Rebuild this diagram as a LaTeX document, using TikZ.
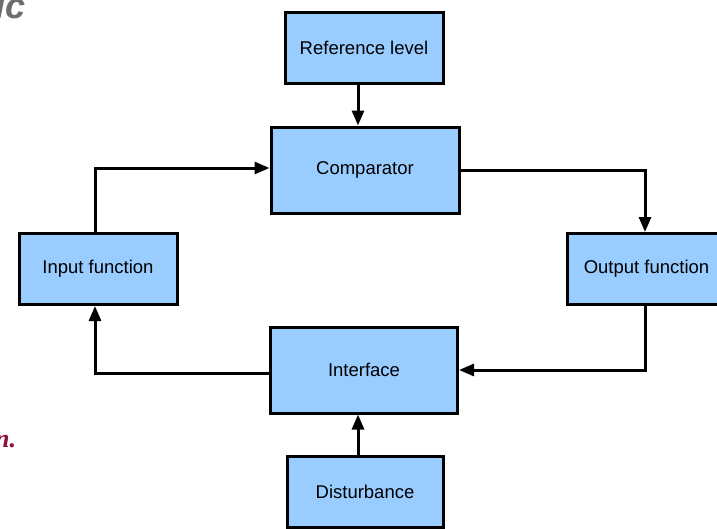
\documentclass[tikz,border=0pt]{standalone}
\usepackage{fontspec}
\setmainfont{Liberation Sans}
\newfontfamily\serifit{Liberation Serif}
\usetikzlibrary{arrows.meta}
\definecolor{boxblue}{HTML}{99CCFF}
\definecolor{wine}{HTML}{8C1040}
\definecolor{capgray}{HTML}{6E6E6E}
\begin{document}
\begin{tikzpicture}[x=1pt,y=-1pt,
  block/.style={draw=black,line width=3pt,fill=boxblue,inner sep=0pt,
    font=\fontsize{18.5}{20}\selectfont},
  link/.style={line width=3pt,-{Triangle[length=15pt,width=12pt]}}]
\useasboundingbox (0,0) rectangle (717,528);
\begin{scope}
\clip (0,0) rectangle (717,528);
% control-loop blocks
\node[block,minimum width=158pt,minimum height=71pt] (ref) at (364,48) {Reference level};
\node[block,minimum width=188pt,minimum height=86pt] (comp) at (365,170) {Comparator};
\node[block,minimum width=158pt,minimum height=71pt] (inp) at (98,269) {Input function};
\node[block,minimum width=158pt,minimum height=71pt,anchor=west] (out) at (566,269) {Output function};
\node[block,minimum width=187pt,minimum height=86pt] (intf) at (364,370) {Interface};
\node[block,minimum width=156pt,minimum height=71pt] (dist) at (365,492) {Disturbance};
% partial captions at the margins
\node[anchor=base west,text=capgray,font=\fontsize{36}{36}\selectfont\bfseries\itshape,inner sep=0pt] (cap1) at (-5,18) {ic};
\node[anchor=base west,text=wine,font=\serifit\fontsize{26}{26}\selectfont\bfseries\itshape,inner sep=0pt] (cap2) at (-5,447) {n.};
\end{scope}
% signal paths
\coordinate (c1) at (645,170);
\coordinate (c2) at (645,370);
\coordinate (c3) at (95,373);
\coordinate (c4) at (95,168);
\draw[link] (ref.south -| 358,0) -- (comp.north -| 358,0);
\draw[link] (comp.east) -- (c1) -- (c1 |- out.north);
\draw[link] (out.south -| c1) -- (c2) -- (intf.east |- c2);
\draw[link] (intf.west |- c3) -- (c3) -- (c3 |- inp.south);
\draw[link] (inp.north -| c4) -- (c4) -- (comp.west |- c4);
\draw[link] (dist.north -| 358,0) -- (intf.south -| 358,0);
\end{tikzpicture}
\end{document}
